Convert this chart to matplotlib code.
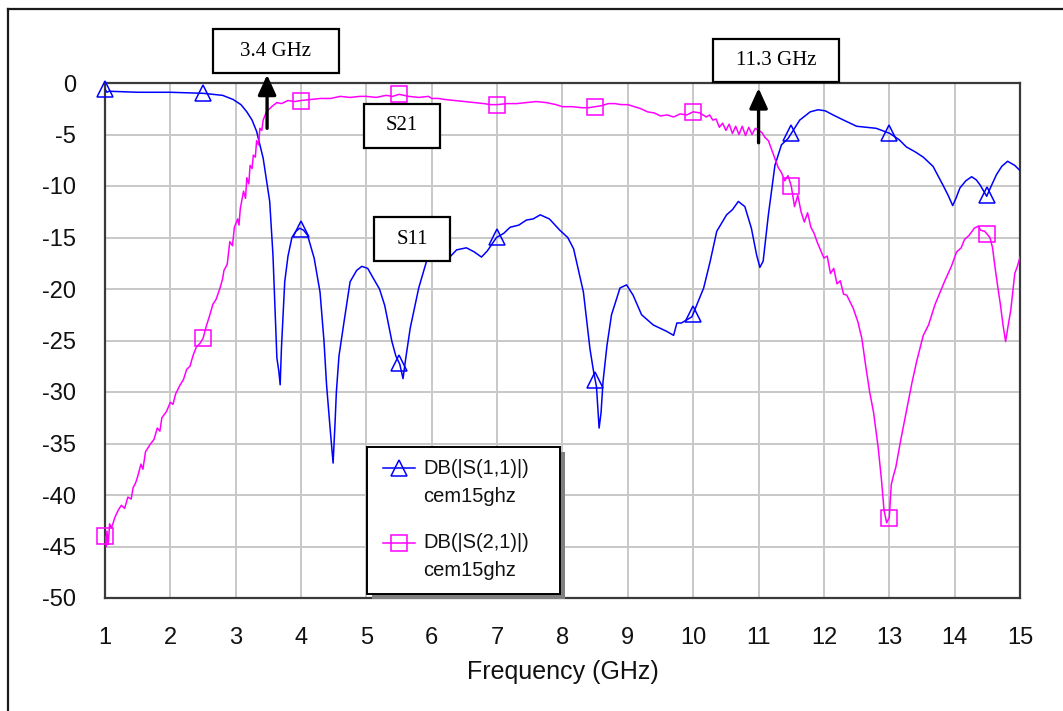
import numpy as np
import matplotlib
matplotlib.use("Agg")
import matplotlib.pyplot as plt
from matplotlib.patches import Rectangle
from matplotlib.lines import Line2D

# ---------------- data ----------------
s11_freq = [1.00, 1.03, 1.06, 1.5, 2.0, 2.5, 2.8, 2.96, 3.08, 3.17, 3.25, 3.32, 3.42, 3.52, 3.57,
            3.60, 3.63, 3.66, 3.68, 3.70, 3.75, 3.80, 3.86, 3.92, 3.98, 4.04, 4.10, 4.20, 4.29,
            4.35, 4.39, 4.44, 4.47, 4.49, 4.52, 4.54, 4.58, 4.65, 4.75, 4.85, 4.93, 5.02, 5.10,
            5.20, 5.28, 5.39, 5.45, 5.51, 5.56, 5.60, 5.67, 5.80, 5.92, 6.05, 6.23, 6.38, 6.53,
            6.65, 6.76, 6.85, 6.99, 7.10, 7.20, 7.33, 7.45, 7.55, 7.66, 7.80, 7.96, 8.08, 8.17,
            8.32, 8.42, 8.47, 8.52, 8.56, 8.59, 8.62, 8.68, 8.75, 8.88, 8.98, 9.08, 9.21, 9.39,
            9.59, 9.70, 9.75, 9.82, 9.98, 10.16, 10.26, 10.36, 10.51, 10.60, 10.69, 10.79, 10.89,
            10.97, 11.02, 11.07, 11.15, 11.25, 11.35, 11.45, 11.53, 11.63, 11.69, 11.79, 11.91,
            12.02, 12.14, 12.30, 12.50, 12.65, 12.80, 13.01, 13.15, 13.26, 13.40, 13.52, 13.67,
            13.82, 13.90, 13.97, 14.02, 14.08, 14.17, 14.26, 14.33, 14.39, 14.49, 14.56, 14.64,
            14.72, 14.81, 14.92, 15.00]
s11_db = [-0.6, -0.9, -0.8, -0.9, -0.9, -1.0, -1.2, -1.6, -2.1, -2.8, -3.6, -4.7, -7.3, -11.5, -16.7,
          -21.8, -26.7, -28.0, -29.3, -25.7, -19.3, -16.8, -15.0, -14.4, -14.1, -14.3, -14.8, -17.0, -20.3,
          -25.0, -29.3, -33.2, -35.4, -36.9, -33.0, -30.0, -26.5, -23.5, -19.3, -18.2, -17.8, -18.0, -18.9,
          -20.0, -21.6, -25.1, -26.5, -27.3, -28.7, -26.8, -23.8, -19.9, -17.3, -17.2, -17.2, -16.2, -16.0,
          -16.4, -16.9, -16.3, -15.0, -14.6, -14.0, -13.8, -13.3, -13.2, -12.8, -13.2, -14.3, -15.0, -16.1,
          -20.3, -25.8, -27.8, -29.5, -33.5, -32.0, -29.0, -25.5, -22.5, -19.9, -19.6, -20.6, -22.5, -23.5,
          -24.1, -24.5, -23.3, -23.3, -22.7, -19.9, -17.3, -14.4, -12.8, -12.3, -11.5, -12.0, -14.1,
          -16.7, -17.9, -17.3, -12.8, -8.0, -6.0, -5.4, -4.6, -3.6, -3.3, -2.8, -2.6,
          -2.7, -3.1, -3.6, -4.2, -4.3, -4.4, -4.9, -5.5, -6.2, -6.7, -7.2, -8.1,
          -9.9, -10.9, -11.9, -11.2, -10.2, -9.5, -9.1, -9.4, -9.9, -11.0, -10.0, -8.9,
          -8.1, -7.6, -8.0, -8.5]

s21_freq = [1.00, 1.02, 1.03, 1.05, 1.07, 1.10, 1.15, 1.20, 1.25, 1.30, 1.35, 1.40, 1.43, 1.47, 1.50,
            1.55, 1.58, 1.62, 1.69, 1.75, 1.80, 1.84, 1.87, 1.94, 2.00, 2.04, 2.08, 2.15, 2.20,
            2.25, 2.30, 2.35, 2.40, 2.45, 2.50, 2.55, 2.60, 2.65, 2.70, 2.76, 2.80, 2.82, 2.87,
            2.91, 2.95, 2.98, 3.03, 3.05, 3.07, 3.12, 3.15, 3.17, 3.20, 3.22, 3.25, 3.27, 3.30,
            3.32, 3.35, 3.37, 3.40, 3.42, 3.47, 3.55, 3.63, 3.70, 3.80, 3.90, 4.00, 4.15, 4.30,
            4.45, 4.60, 4.75, 4.90, 5.00, 5.15, 5.30, 5.40, 5.50, 5.65, 5.80, 5.95, 6.00, 6.10,
            6.20, 6.35, 6.50, 6.65, 6.80, 6.90, 7.00, 7.15, 7.30, 7.45, 7.60, 7.75, 7.90, 8.00,
            8.15, 8.30, 8.40, 8.50, 8.60, 8.70, 8.80, 8.90, 9.00, 9.10, 9.20, 9.30, 9.40, 9.50,
            9.60, 9.70, 9.80, 9.90, 10.00, 10.10, 10.20, 10.25, 10.30, 10.35, 10.40, 10.45, 10.50,
            10.55, 10.60, 10.65, 10.70, 10.75, 10.80, 10.85, 10.90, 10.95, 11.00, 11.05, 11.10,
            11.15, 11.22, 11.30, 11.35, 11.40, 11.45, 11.50, 11.55, 11.60, 11.65, 11.70, 11.75,
            11.80, 11.85, 11.90, 12.00, 12.05, 12.10, 12.15, 12.20, 12.25, 12.30, 12.35, 12.45,
            12.52, 12.58, 12.64, 12.70, 12.76, 12.83, 12.88, 12.92, 12.96, 13.00, 13.03, 13.06,
            13.10, 13.18, 13.27, 13.35, 13.42, 13.52, 13.60, 13.70, 13.85, 13.95, 14.03, 14.10,
            14.15, 14.22, 14.30, 14.36, 14.40, 14.46, 14.54, 14.58, 14.62, 14.66, 14.70, 14.74,
            14.78, 14.82, 14.86, 14.92, 14.96, 15.00]
s21_db = [-44.0, -45.0, -43.5, -44.8, -42.8, -43.2, -42.2, -41.5, -41.0, -41.3, -40.2, -40.4, -39.3, -38.8, -38.2,
          -37.0, -37.5, -35.8, -35.1, -34.6, -33.5, -33.8, -32.5, -31.9, -31.0, -31.2, -30.2, -29.3, -28.8,
          -27.8, -27.5, -26.4, -25.6, -25.3, -24.8, -23.6, -22.6, -21.5, -21.0, -19.9, -19.0, -18.2, -17.6,
          -15.4, -15.8, -14.0, -13.2, -13.8, -12.2, -10.5, -11.2, -9.2, -9.8, -8.0, -8.3, -7.0, -7.2,
          -5.6, -6.0, -4.4, -4.6, -3.6, -2.8, -2.3, -1.9, -2.0, -1.7, -1.8, -1.7, -1.6, -1.5,
          -1.5, -1.3, -1.4, -1.3, -1.3, -1.4, -1.2, -1.3, -1.1, -1.3, -1.4, -1.3, -1.5, -1.5,
          -1.6, -1.7, -1.8, -1.9, -2.0, -2.1, -2.1, -2.0, -2.0, -1.9, -1.8, -1.9, -2.1, -2.3,
          -2.3, -2.4, -2.4, -2.3, -2.2, -2.0, -2.0, -2.1, -2.1, -2.3, -2.5, -2.8, -2.9, -3.2,
          -3.1, -3.3, -3.0, -3.1, -2.8, -2.9, -3.3, -3.1, -3.6, -3.5, -4.3, -3.9, -4.6,
          -4.0, -4.9, -4.2, -5.0, -4.2, -5.1, -4.3, -5.0, -4.4, -4.6, -4.8, -5.3,
          -5.6, -6.8, -8.2, -8.7, -9.5, -9.0, -10.0, -12.0, -10.9, -12.5, -13.5, -12.6,
          -14.0, -14.6, -15.5, -17.0, -16.8, -18.5, -18.0, -19.5, -19.2, -20.5, -20.6, -21.9,
          -23.2, -24.8, -27.5, -30.0, -32.0, -35.4, -38.5, -41.5, -42.7, -42.2, -39.0, -38.2,
          -37.3, -34.5, -31.6, -29.0, -27.0, -24.5, -23.5, -21.5, -19.2, -17.8, -16.4, -16.0,
          -15.2, -14.8, -14.1, -13.9, -14.3, -14.4, -15.0, -16.0, -18.0, -19.8, -21.5, -23.5,
          -25.1, -23.5, -22.0, -18.5, -17.8, -16.9]

marker_freq = [1.0, 2.5, 4.0, 5.5, 7.0, 8.5, 10.0, 11.5, 13.0, 14.5]
x_ticks = [1, 2, 3, 4, 5, 6, 7, 8, 9, 10, 11, 12, 13, 14, 15]
y_ticks = [0, -5, -10, -15, -20, -25, -30, -35, -40, -45, -50]
legend_labels = ["DB(|S(1,1)|)\ncem15ghz", "DB(|S(2,1)|)\ncem15ghz"]
x_label = "Frequency (GHz)"
notes = ["3.4 GHz", "11.3 GHz", "S21", "S11"]
arrow_freq = [3.48, 11.0]
arrow_from_db = [-4.4, -5.8]
arrow_to_db = [0.8, -0.5]

# ---------------- figure ----------------
W, H = 1063, 711
plt.rcParams['axes.unicode_minus'] = False
plt.rcParams['font.family'] = ['Liberation Sans', 'DejaVu Sans']
fig = plt.figure(figsize=(W / 100, H / 100), dpi=100)


def fx(x):
    return x / W


def fy(y):
    return 1 - y / H


ax_l, ax_t, ax_r, ax_b = 105, 83, 1020, 598
ax = fig.add_axes([fx(ax_l), fy(ax_b), (ax_r - ax_l) / W, (ax_b - ax_t) / H])

blue = '#0000ff'
mag = '#ff00ff'
ax.plot(s11_freq, s11_db, color=blue, lw=1.1, zorder=3)
ax.plot(s21_freq, s21_db, color=mag, lw=1.1, zorder=3)
ax.plot(marker_freq, np.interp(marker_freq, s11_freq, s11_db), ls='none', marker='^',
        ms=11, mfc='none', mec=blue, mew=1.1, zorder=4, clip_on=False)
ax.plot(marker_freq, np.interp(marker_freq, s21_freq, s21_db), ls='none', marker='s',
        ms=12, mfc='none', mec=mag, mew=1.1, zorder=4, clip_on=False)

ax.set_xlim(1, 15)
ax.set_ylim(-50, 0)
ax.set_xticks(x_ticks)
ax.set_yticks(y_ticks)
ax.set_xticklabels([str(v) for v in x_ticks])
ax.set_yticklabels([str(v) for v in y_ticks])
ax.tick_params(axis='both', length=0, labelsize=17, colors='#111111')
ax.tick_params(axis='x', pad=21)
ax.tick_params(axis='y', pad=21)
ax.grid(True, color='#c8c8c8', lw=1.4)
ax.set_axisbelow(True)
for sp in ax.spines.values():
    sp.set_color('#3a3a3a')
    sp.set_linewidth(1.6)
ax.set_xlabel(x_label, fontsize=18, color='#111111', labelpad=8)

# outer frame (left and top edges visible)
fig.add_artist(Line2D([fx(8), fx(8)], [fy(9), 0], color='#1a1a1a', lw=1.6, transform=fig.transFigure))
fig.add_artist(Line2D([fx(8), 1], [fy(9), fy(9)], color='#1a1a1a', lw=1.6, transform=fig.transFigure))

# arrows
for f, a, b in zip(arrow_freq, arrow_from_db, arrow_to_db):
    ax.annotate('', xy=(f, b), xytext=(f, a),
                arrowprops=dict(arrowstyle='-|>,head_length=0.55,head_width=0.25',
                                lw=2.4, color='black', mutation_scale=22,
                                shrinkA=0, shrinkB=0),
                annotation_clip=False, zorder=6)

# annotation boxes
boxes = [(213, 29, 339, 73), (713, 39, 839, 82), (364, 104, 440, 148), (374, 217, 450, 261)]
for (x0, y0, x1, y1), t in zip(boxes, notes):
    fig.add_artist(Rectangle((fx(x0), fy(y1)), (x1 - x0) / W, (y1 - y0) / H,
                             transform=fig.transFigure, facecolor='white',
                             edgecolor='black', lw=1.6, zorder=7))
    fig.text(fx((x0 + x1) / 2), fy((y0 + y1) / 2), t, ha='center', va='center',
             fontsize=15, family=['Liberation Serif', 'DejaVu Serif'], zorder=8)

# legend (drawn manually)
lx0, ly0, lx1, ly1 = 367, 447, 560, 594
fig.add_artist(Rectangle((fx(lx0 + 5), fy(ly1 + 5)), (lx1 - lx0) / W, (ly1 - ly0) / H,
                         transform=fig.transFigure, facecolor='#808080', edgecolor='none', zorder=7))
fig.add_artist(Rectangle((fx(lx0), fy(ly1)), (lx1 - lx0) / W, (ly1 - ly0) / H,
                         transform=fig.transFigure, facecolor='white', edgecolor='black',
                         lw=1.4, zorder=7))
rows = [(468, 497, blue, '^', 11), (543, 571, mag, 's', 12)]
for (r1, r2, c, m, ms), lab in zip(rows, legend_labels):
    fig.add_artist(Line2D([fx(383), fx(415)], [fy(r1), fy(r1)], color=c, lw=1.1,
                          transform=fig.transFigure, zorder=8))
    fig.add_artist(Line2D([fx(399)], [fy(r1)], color=c, marker=m, ms=ms, mfc='none',
                          mec=c, mew=1.1, transform=fig.transFigure, zorder=8))
    l1, l2 = lab.split('\n')
    fig.text(fx(423), fy(r1), l1, ha='left', va='center', fontsize=14.5, color='#111111', zorder=8)
    fig.text(fx(423), fy(r2), l2, ha='left', va='center', fontsize=14.5, color='#111111', zorder=8)

fig.savefig('out.png', dpi=100)
